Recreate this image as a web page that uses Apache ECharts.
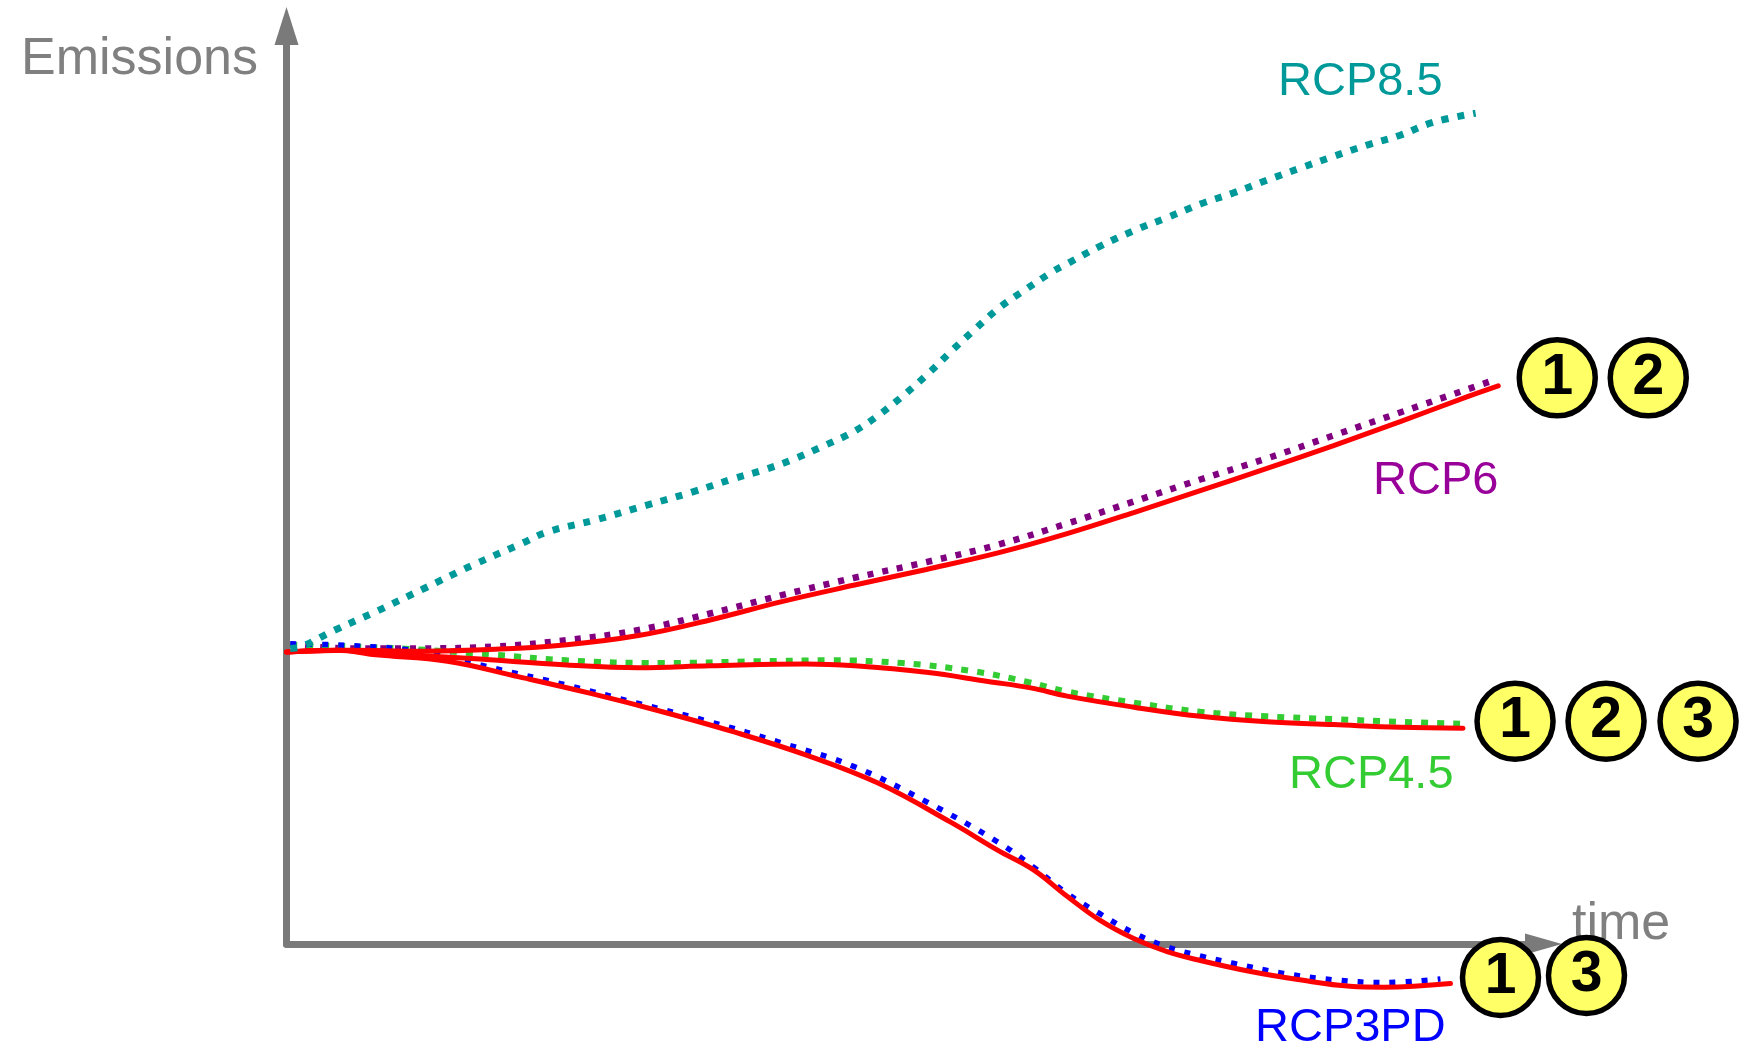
<!DOCTYPE html>
<html>
<head>
<meta charset="utf-8">
<style>
  html, body { margin: 0; padding: 0; background: #ffffff; }
  #chart { width: 1750px; height: 1047px; }
</style>
<script src="https://cdn.jsdelivr.net/npm/echarts@6/dist/echarts.min.js"></script>
</head>
<body>
<div id="chart"></div>
<script>
// ---------- data (time in arbitrary units 0..100, emissions in arbitrary units 0..100) ----------
const rcp85Time  = [0.3, 1.2, 3.7, 7.1, 10.9, 14.7, 18.5, 20.8, 24.6, 28.4, 32.2, 35.6, 38.1, 40.5, 42.8, 45.1, 47.2, 49.2, 51.1, 52.9, 54.8, 56.7, 58.8, 60.9, 62.1, 64.7, 67.4, 70.0, 72.7, 75.3, 78.0, 80.6, 83.3, 85.9, 88.6, 91.2, 94.6];
const rcp85Value = [32.2, 32.4, 34.1, 36.2, 38.7, 41.2, 43.5, 44.9, 46.2, 47.7, 49.2, 50.7, 51.7, 52.9, 54.3, 55.8, 57.7, 59.9, 62.2, 64.6, 67.0, 69.3, 71.3, 73.2, 74.1, 76.0, 77.7, 79.1, 80.6, 81.8, 83.2, 84.5, 85.8, 87.0, 88.1, 89.5, 90.5];

const rcp6Time  = [0.3, 5.2, 10.9, 16.6, 22.3, 28.0, 33.7, 39.4, 45.2, 50.9, 56.6, 62.1, 67.4, 72.7, 78.0, 83.3, 88.6, 93.9, 96.0];
const rcp6Value = [32.6, 32.2, 32.2, 32.4, 33.1, 34.2, 36.0, 38.0, 39.9, 41.6, 43.5, 45.8, 48.2, 50.6, 52.9, 55.4, 57.9, 60.4, 61.4];
const rcp6ModelTime  = [0, 5.0, 10.9, 16.6, 22.3, 28.0, 33.7, 39.4, 45.2, 50.9, 56.6, 62.1, 67.4, 72.7, 78.0, 83.3, 88.6, 93.9, 96.4];
const rcp6ModelValue = [31.8, 32.0, 31.9, 32.1, 32.6, 33.6, 35.3, 37.3, 39.1, 40.8, 42.6, 44.7, 47.0, 49.4, 51.8, 54.3, 56.9, 59.6, 60.8];

const rcp45Time  = [0.3, 9.0, 16.6, 22.3, 29.9, 37.5, 43.2, 49.0, 54.7, 58.8, 62.1, 67.4, 72.7, 78.0, 83.3, 88.6, 93.4];
const rcp45Value = [32.6, 32.2, 31.5, 30.9, 30.6, 30.8, 30.9, 30.6, 29.7, 28.6, 27.5, 26.3, 25.3, 24.8, 24.5, 24.2, 24.0];
const rcp45ModelTime  = [0, 4.0, 7.1, 14.7, 22.3, 28.0, 33.7, 41.3, 45.2, 50.9, 55.8, 59.2, 62.1, 67.4, 72.7, 78.0, 83.3, 88.6, 93.6];
const rcp45ModelValue = [31.8, 32.0, 31.7, 31.1, 30.4, 30.1, 30.3, 30.5, 30.3, 29.6, 28.6, 27.9, 27.0, 25.8, 24.8, 24.2, 23.9, 23.6, 23.5];

const rcp3pdTime  = [0.3, 5.2, 10.9, 16.6, 22.3, 28.0, 33.7, 39.4, 45.2, 50.9, 56.6, 59.4, 62.1, 64.7, 67.4, 70.0, 72.7, 75.3, 79.3, 83.3, 87.3, 91.8];
const rcp3pdValue = [32.7, 32.5, 31.8, 30.0, 28.2, 26.2, 24.2, 21.9, 19.3, 15.5, 11.1, 8.4, 5.5, 3.3, 1.2, -0.3, -1.3, -2.1, -3.2, -3.9, -4.2, -3.8];
const rcp3pdModelTime  = [0, 4.0, 7.1, 12.8, 18.5, 24.2, 29.9, 35.6, 41.3, 47.1, 52.8, 56.6, 59.4, 62.1, 64.7, 67.4, 70.0, 72.7, 76.7, 80.6, 84.6, 87.3, 92.6];
const rcp3pdModelValue = [31.8, 32.0, 31.5, 30.8, 29.1, 27.3, 25.3, 23.1, 20.6, 17.5, 13.3, 10.2, 8.1, 5.2, 2.6, 0.6, -0.8, -1.8, -3.0, -3.9, -4.6, -4.7, -4.3];

const scenarioNames = ['RCP8.5', 'RCP6', 'RCP4.5', 'RCP3PD'];
const rcp6Badges   = ['1', '2'];
const rcp45Badges  = ['1', '2', '3'];
const rcp3pdBadges = ['1', '3'];
const yAxisTitle = 'Emissions';
const xAxisTitle = 'time';

// ---------- build ----------
const FONT = '"Liberation Sans", Arial, Helvetica, sans-serif';
const pairs = (xs, ys) => xs.map((x, i) => [x, ys[i]]);
const lastOf = (xs, ys) => [xs[xs.length - 1], ys[ys.length - 1]];

function dotted(name, xs, ys, color, width, dash, z) {
  return {
    type: 'line', name: name, data: pairs(xs, ys), smooth: 0.4, showSymbol: false,
    clip: false, silent: true, z: z || 2,
    lineStyle: { color: color, width: width, type: dash, cap: 'butt' }
  };
}
function model(xs, ys) {
  return {
    type: 'line', data: pairs(xs, ys), smooth: 0.4, showSymbol: false,
    clip: false, silent: true, z: 3,
    lineStyle: { color: '#ff0000', width: 5, cap: 'round' }
  };
}
function badgeItems(xs, ys, labels, offsets) {
  const end = lastOf(xs, ys);
  return labels.map((b, i) => ({ name: b, value: end, symbolOffset: offsets[i] }));
}

const badgeData = [].concat(
  badgeItems(rcp6ModelTime, rcp6ModelValue, rcp6Badges, [[59, -8], [150, -8]]),
  badgeItems(rcp45ModelTime, rcp45ModelValue, rcp45Badges, [[52, -7], [143, -7], [235, -7]]),
  badgeItems(rcp3pdModelTime, rcp3pdModelValue, rcp3pdBadges, [[50, -6], [136, -8]])
);

const series = [
  dotted('RCP6', rcp6Time, rcp6Value, '#800080', 6.5, [6, 9]),
  dotted('RCP4.5', rcp45Time, rcp45Value, '#33cc33', 6, [7, 9]),
  dotted('RCP3PD', rcp3pdTime, rcp3pdValue, '#0000ff', 5.5, [6, 10]),
  model(rcp6ModelTime, rcp6ModelValue),
  model(rcp45ModelTime, rcp45ModelValue),
  model(rcp3pdModelTime, rcp3pdModelValue),
  dotted('RCP8.5', rcp85Time, rcp85Value, '#009999', 7, [7, 9], 4),
  {
    type: 'scatter', data: badgeData, clip: false, silent: true, z: 6,
    symbol: 'circle', symbolSize: 76,
    itemStyle: { color: '#ffff66', borderColor: '#000000', borderWidth: 5.5, opacity: 1 },
    label: { show: true, position: 'inside', formatter: '{b}', color: '#000000',
             fontSize: 57, fontWeight: 'bold', fontFamily: FONT },
    emphasis: { disabled: true }
  }
];

function txt(text, x, y, color, size, align) {
  return {
    type: 'text', x: x, y: y, z: 4, silent: true,
    style: { text: text, fill: color, font: size + 'px ' + FONT, align: align || 'left', verticalAlign: 'middle' }
  };
}

const AXIS_GRAY = '#7a7a7a';
const option = {
  animation: false,
  backgroundColor: '#ffffff',
  grid: { left: 286.5, right: 206.5, top: 26, bottom: 103 },
  xAxis: {
    type: 'value', min: 0, max: 100,
    axisLine: { show: true, onZero: false, symbol: ['none', 'triangle'], symbolSize: [21, 37],
                lineStyle: { color: AXIS_GRAY, width: 7 } },
    axisTick: { show: false }, axisLabel: { show: false }, splitLine: { show: false }
  },
  yAxis: {
    type: 'value', min: 0, max: 100,
    axisLine: { show: true, onZero: false, symbol: ['none', 'triangle'], symbolSize: [24, 38],
                lineStyle: { color: AXIS_GRAY, width: 7 } },
    axisTick: { show: false }, axisLabel: { show: false }, splitLine: { show: false }
  },
  graphic: [
    txt(yAxisTitle, 258, 60, '#808080', 52, 'right'),
    txt(xAxisTitle, 1572, 925, '#808080', 52, 'left'),
    txt(scenarioNames[0], 1278, 82, '#009999', 47, 'left'),
    txt(scenarioNames[1], 1373, 481, '#990099', 47, 'left'),
    txt(scenarioNames[2], 1289, 775, '#33cc33', 47, 'left'),
    txt(scenarioNames[3], 1255, 1028, '#0000ff', 47, 'left')
  ],
  series: series
};

const chart = echarts.init(document.getElementById('chart'));
chart.setOption(option);
</script>
</body>
</html>
